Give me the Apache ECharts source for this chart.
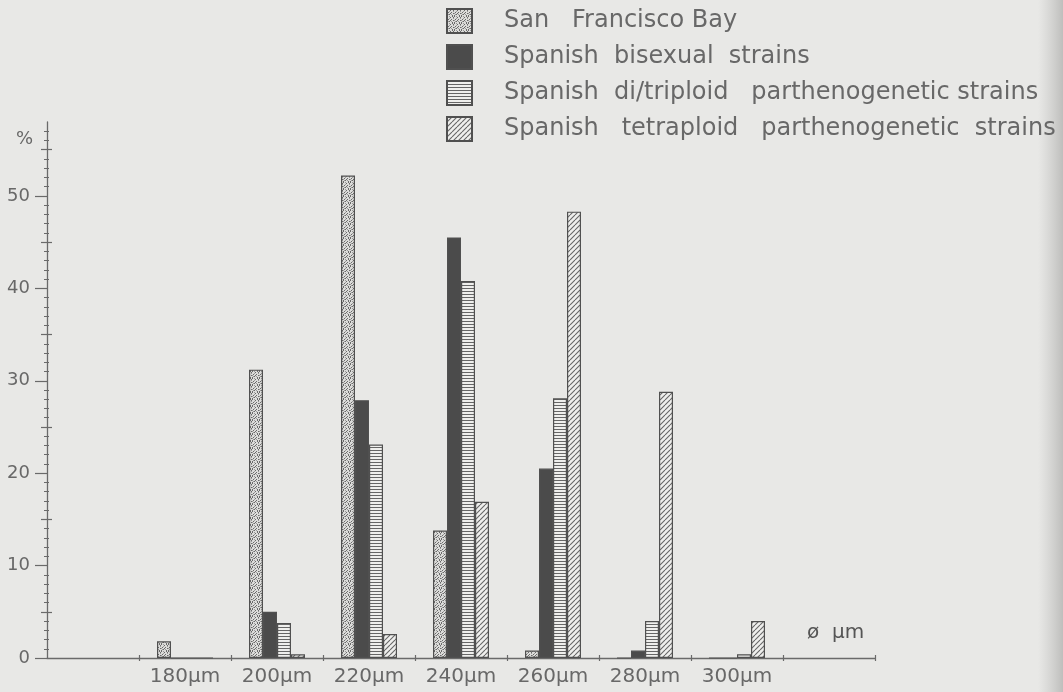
<!DOCTYPE html>
<html>
<head>
<meta charset="utf-8">
<script src="https://cdn.jsdelivr.net/npm/echarts@6/dist/echarts.min.js"></script>
<style>
html,body{margin:0;padding:0;background:#e8e8e6;}
#chart{width:1063px;height:692px;}
</style>
</head>
<body>
<div id="chart"></div>
<script>
// ---- data ----
var categories = ['', '180\u03bcm', '200\u03bcm', '220\u03bcm', '240\u03bcm', '260\u03bcm', '280\u03bcm', '300\u03bcm', ''];
var seriesNames = [
  'San   Francisco Bay',
  'Spanish  bisexual  strains',
  'Spanish  di/triploid   parthenogenetic strains',
  'Spanish   tetraploid   parthenogenetic  strains'
];
var sanFrancisco = [1.8, 31.2, 52.2, 13.8, 0.8, 0, 0];
var bisexual     = [0, 5.0, 27.9, 45.5, 20.5, 0.8, 0];
var diTriploid   = [0, 3.8, 23.1, 40.8, 28.1, 4.0, 0.4];
var tetraploid   = [0, 0.4, 2.6, 16.9, 48.3, 28.8, 4.0];
var yMajorTicks = [0, 10, 20, 30, 40, 50];
var yMidTicks = [5, 15, 25, 35, 45, 55];
var yMinorTicks = [1,2,3,4,6,7,8,9,11,12,13,14,16,17,18,19,21,22,23,24,26,27,28,29,31,32,33,34,36,37,38,39,41,42,43,44,46,47,48,49,51,52,53,54,56,57];

// ---- fill patterns ----
function makeCanvas(w, h, draw) {
  var c = document.createElement('canvas');
  c.width = w; c.height = h;
  var ctx = c.getContext('2d');
  draw(ctx, w, h);
  return c;
}
var speckle = makeCanvas(7, 7, function (ctx, w, h) {
  ctx.fillStyle = '#dcdcda'; ctx.fillRect(0, 0, w, h);
  ctx.fillStyle = '#6a6a6a';
  var dots = [[0,0],[3,1],[5,0],[1,3],[4,3],[6,4],[2,5],[5,6],[0,6],[3,4],[6,1]];
  dots.forEach(function (d) { ctx.fillRect(d[0], d[1], 1, 1); });
  ctx.fillStyle = '#9a9a9a';
  [[2,2],[6,2],[1,5],[4,5],[2,0],[0,4]].forEach(function (d) { ctx.fillRect(d[0], d[1], 1, 1); });
});
var hlines = makeCanvas(4, 3, function (ctx, w, h) {
  ctx.fillStyle = '#efefed'; ctx.fillRect(0, 0, w, h);
  ctx.fillStyle = '#666666'; ctx.fillRect(0, 0, w, 1);
});
var diag = makeCanvas(5, 5, function (ctx, w, h) {
  ctx.fillStyle = '#efefed'; ctx.fillRect(0, 0, w, h);
  ctx.strokeStyle = '#666666'; ctx.lineWidth = 1.1;
  [-5, 0, 5].forEach(function (o) {
    ctx.beginPath(); ctx.moveTo(o, h); ctx.lineTo(o + w, 0); ctx.stroke();
  });
});

var fills = [
  { image: speckle, repeat: 'repeat' },
  '#4b4b4b',
  { image: hlines, repeat: 'repeat' },
  { image: diag, repeat: 'repeat' }
];
var values = [sanFrancisco, bisexual, diTriploid, tetraploid];

var chart = echarts.init(document.getElementById('chart'), null, { renderer: 'canvas' });
var axisColor = '#6a6a6a';
var textColor = '#686868';
var tickFilter = function (idx) { return idx >= 1 && idx <= 8; };

var option = {
  backgroundColor: '#e8e8e6',
  animation: false,
  textStyle: { fontFamily: 'DejaVu Sans' },
  legend: {
    orient: 'vertical',
    left: 446,
    top: 8,
    padding: 0,
    itemWidth: 25,
    itemHeight: 24,
    itemGap: 10,
    selectedMode: false,
    icon: 'rect',
    textStyle: { fontSize: 24, color: textColor, lineHeight: 24, padding: [0, 0, 0, 27], fontFamily: 'DejaVu Sans' },
    data: seriesNames
  },
  grid: { left: 47, top: 122, width: 828, height: 536 },
  xAxis: [{
    type: 'category',
    data: categories,
    boundaryGap: true,
    axisLine: { lineStyle: { color: axisColor, width: 1.3 } },
    axisTick: { show: true, interval: tickFilter, length: 3, lineStyle: { color: axisColor, width: 1.2 } },
    axisLabel: { color: textColor, fontSize: 20, margin: 9 },
    splitLine: { show: false },
    name: '\u00f8  \u03bcm',
    nameLocation: 'end',
    nameGap: -68,
    nameTextStyle: { color: '#555', fontSize: 20, align: 'left', verticalAlign: 'bottom', padding: [0, 0, 15, 0] }
  }, {
    type: 'category',
    data: categories,
    position: 'bottom',
    boundaryGap: true,
    axisLine: { show: false },
    axisTick: { show: true, inside: true, interval: tickFilter, length: 3, lineStyle: { color: axisColor, width: 1.2 } },
    axisLabel: { show: false },
    splitLine: { show: false }
  }],
  yAxis: [{
    type: 'value',
    min: 0, max: 58,
    axisLine: { show: true, lineStyle: { color: axisColor, width: 1.3 } },
    axisTick: { show: true, length: 12, customValues: yMajorTicks, lineStyle: { color: axisColor, width: 1.2 } },
    axisLabel: { color: textColor, fontSize: 18, margin: 17, customValues: yMajorTicks },
    splitLine: { show: false },
    name: '%',
    nameLocation: 'end',
    nameGap: -17,
    nameTextStyle: { color: textColor, fontSize: 18, align: 'right', verticalAlign: 'middle', padding: [0, 14, 0, 0] }
  }, {
    type: 'value',
    min: 0, max: 58,
    position: 'left',
    offset: -5,
    axisLine: { show: false },
    axisTick: { show: true, length: 11, customValues: yMidTicks, lineStyle: { color: axisColor, width: 1.2 } },
    axisLabel: { show: false },
    splitLine: { show: false }
  }, {
    type: 'value',
    min: 0, max: 58,
    position: 'left',
    offset: -2,
    axisLine: { show: false },
    axisTick: { show: true, length: 5, customValues: yMinorTicks, lineStyle: { color: axisColor, width: 1 } },
    axisLabel: { show: false },
    splitLine: { show: false }
  }],
  series: seriesNames.map(function (name, i) {
    return {
      name: name,
      type: 'bar',
      xAxisIndex: 0,
      yAxisIndex: 0,
      barWidth: 14,
      barGap: '0%',
      data: [null].concat(values[i]).concat([null]),
      itemStyle: { color: fills[i], borderColor: '#505050', borderWidth: 1.2 }
    };
  }),
  graphic: [{
    type: 'rect',
    shape: { x: 1038, y: 0, width: 25, height: 692 },
    style: { fill: new echarts.graphic.LinearGradient(0, 0, 1, 0, [
      { offset: 0, color: 'rgba(200,200,198,0)' },
      { offset: 1, color: 'rgba(190,190,188,1)' }
    ]) },
    silent: true,
    z: -1
  }]
};
chart.setOption(option);
</script>
</body>
</html>
